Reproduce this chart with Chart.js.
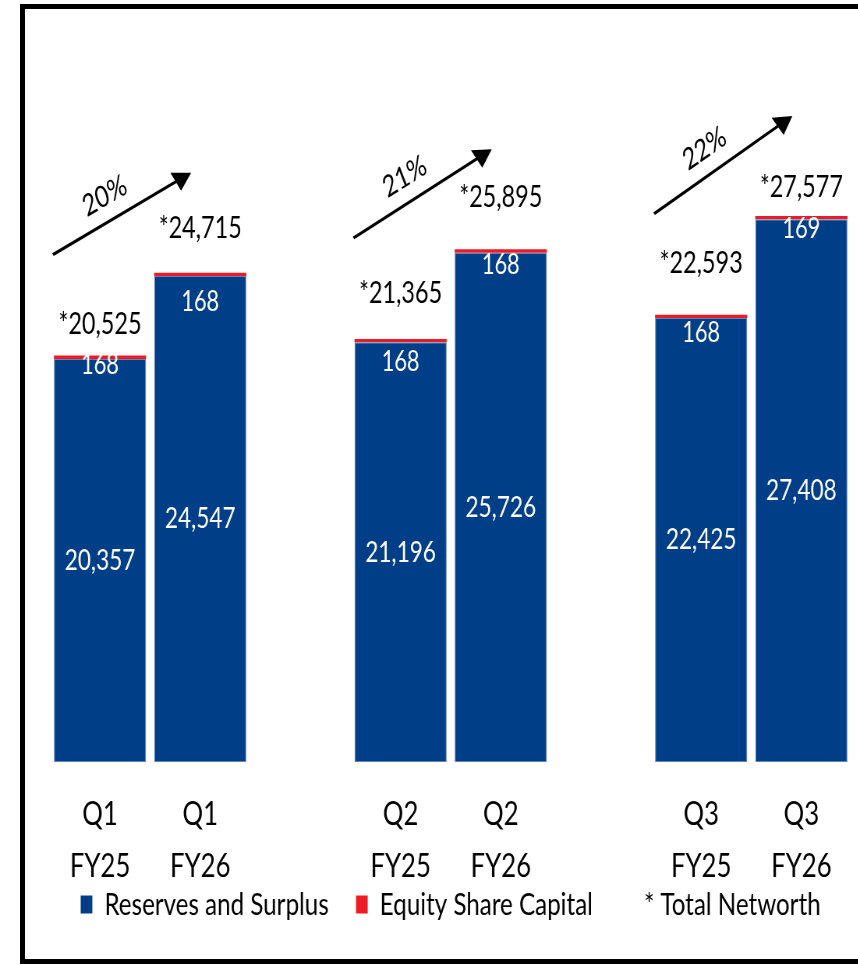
<!DOCTYPE html>
<html>
<head>
<meta charset="utf-8">
<title>Networth</title>
<script src="https://cdn.jsdelivr.net/npm/chart.js"></script>
<style>
	html, body { margin: 0; padding: 0; background: #fff; overflow: hidden; width: 858px; height: 965px; }
	#networth { position: absolute; left: 0; top: 0; }
	.frame { position: absolute; left: 20px; top: 4px; width: 940px; height: 960px; box-sizing: border-box; border: 5px solid #000; pointer-events: none; }
</style>
</head>
<body>
<!-- canvas is drawn wide and squeezed by css to get the condensed slide look -->
<canvas id="networth" width="1162" height="965" style="width:906px;height:965px"></canvas>
<div class="frame"></div>
<script>
// Networth by quarter, FY25 against FY26 (Rs crore)
const quarters = ['Q1', 'Q2', 'Q3'];
const years = ['FY25', 'FY26'];
const reserves = [20357, 24547, 21196, 25726, 22425, 27408];
const equity = [168, 168, 168, 168, 168, 169];
const totals = [20525, 24715, 21365, 25895, 22593, 27577];

const FONT = "Lato, 'Liberation Sans', sans-serif";
const BLUE = '#003e87';
const RED = '#ed1c24';
const SQUEEZE = 906 / 1162;

function font(size){
	return size + 'px ' + FONT;
}

function fmt(n){
	return n.toLocaleString('en-US');
}

// Two bars per quarter, an empty slot between quarters
let slotLabels = [];
let barSlots = [];
quarters.forEach((q, qi) => {
	years.forEach(y => {
		barSlots.push(slotLabels.length);
		slotLabels.push([q, y]);
	});
	if(qi < quarters.length - 1){
		slotLabels.push('');
	}
});

function spread(values){
	let out = slotLabels.map(() => null);
	barSlots.forEach((slot, i) => { out[slot] = values[i]; });
	return out;
}

// Values inside the bars, totals above them and the growth arrows
const barLabels = {
	id: 'barLabels',
	afterDatasetsDraw(chart, args, opts){
		const ctx = chart.ctx;
		const low = chart.getDatasetMeta(0).data;
		const cap = chart.getDatasetMeta(1).data;
		ctx.save();
		ctx.textAlign = 'center';
		ctx.textBaseline = 'middle';
		barSlots.forEach((slot, i) => {
			let blue = low[slot];
			let red = cap[slot];
			ctx.fillStyle = '#fff';
			ctx.font = font(29);
			ctx.fillText(fmt(reserves[i]), blue.x, (blue.y + blue.base) / 2);
			ctx.font = font(28);
			ctx.fillText(fmt(equity[i]), red.x, red.y + opts.capDrop[i]);
			ctx.fillStyle = '#000';
			ctx.font = font(30);
			ctx.fillText('*' + fmt(totals[i]), red.x, red.y - opts.totalRise[i]);
		});

		quarters.forEach((q, qi) => {
			let a = cap[barSlots[qi * 2]];
			let b = cap[barSlots[qi * 2 + 1]];
			// arrow worked out in on-screen pixels
			let sx = (a.x - a.width / 2) * SQUEEZE - 1, sy = a.y - 101;
			let tx = b.x * SQUEEZE - 9, ty = b.y - 100;
			let len = Math.hypot(tx - sx, ty - sy);
			let dx = (tx - sx) / len, dy = (ty - sy) / len;

			ctx.save();
			ctx.scale(1 / SQUEEZE, 1);
			ctx.strokeStyle = '#000';
			ctx.fillStyle = '#000';
			ctx.lineWidth = 3;
			ctx.beginPath();
			ctx.moveTo(sx, sy);
			ctx.lineTo(tx - dx * 12, ty - dy * 12);
			ctx.stroke();
			ctx.beginPath();
			ctx.moveTo(tx, ty);
			ctx.lineTo(tx - dx * 18 - dy * 10.5, ty - dy * 18 + dx * 10.5);
			ctx.lineTo(tx - dx * 18 + dy * 10.5, ty - dy * 18 - dx * 10.5);
			ctx.closePath();
			ctx.fill();
			ctx.restore();

			let pct = Math.round((totals[qi * 2 + 1] / totals[qi * 2] - 1) * 100);
			let mx = (sx + tx) / 2 + dy * 24 - dx * 6;
			let my = (sy + ty) / 2 - dx * 24 - dy * 6;
			ctx.save();
			ctx.fillStyle = '#000';
			ctx.translate(mx / SQUEEZE, my);
			ctx.rotate(Math.atan2(dy * SQUEEZE, dx));
			ctx.font = font(30);
			ctx.fillText(pct + '%', 0, 0);
			ctx.restore();
		});
		ctx.restore();
	}
};

// Let the second line of the category labels run into the legend band
const labelRoom = {
	id: 'labelRoom',
	afterLayout(chart){
		let x = chart.scales.x;
		x.bottom = x.top + 125;
	}
};

document.addEventListener('DOMContentLoaded', () => {
	let ctx = document.querySelector('#networth').getContext('2d');
	new Chart(ctx, {
		type: 'bar',
		data: {
			labels: slotLabels,
			datasets: [{
				label: 'Reserves and Surplus',
				data: spread(reserves),
				backgroundColor: BLUE,
				borderColor: '#5f84bd',
				borderWidth: 1,
				borderSkipped: false
			}, {
				label: 'Equity Share Capital',
				data: spread(equity),
				backgroundColor: RED,
				borderWidth: 0
			}]
		},
		options: {
			responsive: false,
			animation: false,
			categoryPercentage: 1,
			barPercentage: 0.92,
			layout: { padding: { top: 69, left: 64, right: 70, bottom: 35 } },
			scales: {
				x: {
					stacked: true,
					grid: { display: false, drawTicks: false },
					border: { display: false },
					ticks: {
						color: '#000',
						padding: 26,
						maxRotation: 0,
						autoSkip: false,
						font: { family: FONT, size: 33, lineHeight: 52 / 33 }
					},
					afterFit(scale){ scale.height = 92; }
				},
				y: {
					stacked: true,
					display: false,
					min: 0,
					max: 35000
				}
			},
			plugins: {
				tooltip: { enabled: false },
				legend: {
					position: 'bottom',
					labels: {
						color: '#000',
						boxWidth: 15,
						boxHeight: 18,
						padding: 35,
						font: { family: FONT, size: 31 },
						generateLabels(chart){
							let items = Chart.defaults.plugins.legend.labels.generateLabels(chart);
							items.forEach(item => { item.lineWidth = 0; });
							items.push({ text: '* Total Networth', fillStyle: 'rgba(0,0,0,0)', strokeStyle: 'rgba(0,0,0,0)', lineWidth: 0, hidden: false, datasetIndex: -1 });
							return items;
						}
					}
				},
				barLabels: {
					capDrop: [9, 29, 23, 16, 18, 13],
					totalRise: [31, 44, 46, 52, 51, 29]
				}
			}
		},
		plugins: [barLabels, labelRoom]
	});
});
</script>
</body>
</html>
